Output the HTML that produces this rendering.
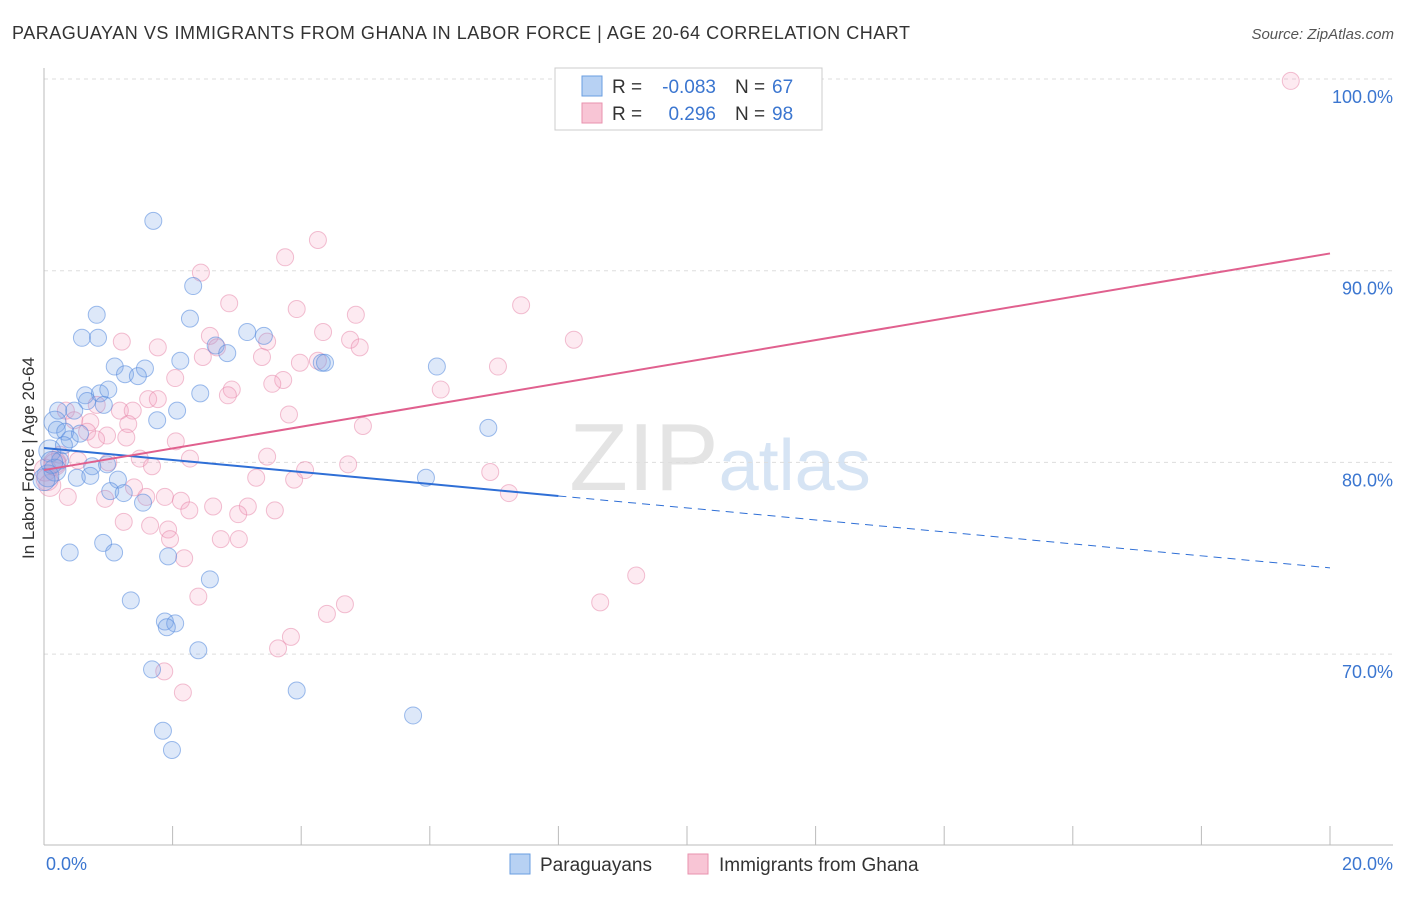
<!DOCTYPE html>
<html><head><meta charset="utf-8"><style>
body{margin:0;background:#fff;font-family:"Liberation Sans",sans-serif;}
svg text{font-family:"Liberation Sans",sans-serif;}
</style></head><body>
<svg id="chart" width="1406" height="892" xmlns="http://www.w3.org/2000/svg">
<text x="12" y="39" font-size="18" fill="#333" textLength="898">PARAGUAYAN VS IMMIGRANTS FROM GHANA IN LABOR FORCE | AGE 20-64 CORRELATION CHART</text>
<text x="1394" y="39" font-size="15" fill="#555" text-anchor="end" font-style="italic">Source: ZipAtlas.com</text>
<text x="720" y="490" font-size="96" fill="#e4e4e4" text-anchor="middle" font-family="Liberation Serif">ZIP<tspan fill="#d6e4f4" font-family="Liberation Sans" font-size="72">atlas</tspan></text>
<g id="grid"></g><g id="axes"></g><g id="pts"></g><g id="trend"></g>
<text transform="translate(34,458) rotate(-90)" font-size="17" fill="#333" text-anchor="middle">In Labor Force | Age 20-64</text>
<g>
<rect x="555" y="68" width="267" height="62" fill="#fff" stroke="#ccc"/>
<rect x="582" y="76" width="20" height="20" fill="#b7d1f3" stroke="#6a9ee0"/>
<rect x="582" y="103" width="20" height="20" fill="#f8c5d5" stroke="#e892ae"/>
<text x="612" y="93" font-size="19" fill="#333">R =</text>
<text x="716" y="93" font-size="19" fill="#3b76d0" text-anchor="end">-0.083</text>
<text x="735" y="93" font-size="19" fill="#333">N =</text>
<text x="772" y="93" font-size="19" fill="#3b76d0">67</text>
<text x="612" y="120" font-size="19" fill="#333">R =</text>
<text x="716" y="120" font-size="19" fill="#3b76d0" text-anchor="end">0.296</text>
<text x="735" y="120" font-size="19" fill="#333">N =</text>
<text x="772" y="120" font-size="19" fill="#3b76d0">98</text>
</g>
<g>
<rect x="510" y="854" width="20" height="20" fill="#b7d1f3" stroke="#6a9ee0"/>
<text x="540" y="871" font-size="19" fill="#333">Paraguayans</text>
<rect x="688" y="854" width="20" height="20" fill="#f8c5d5" stroke="#e892ae"/>
<text x="719" y="871" font-size="19" fill="#333">Immigrants from Ghana</text>
</g>
</svg>
<script>
const blueX=[1.70,2.32,0.82,0.59,0.84,2.27,3.16,3.42,2.67,2.85,2.12,1.10,1.57,1.26,1.46,4.32,4.37,6.11,2.43,0.64,0.87,1.00,0.67,0.93,2.07,0.22,0.47,1.76,0.17,0.20,0.33,0.40,0.56,6.91,0.09,0.25,0.75,0.98,0.17,0.51,0.72,1.15,5.94,1.03,1.24,1.54,0.40,0.92,1.09,1.93,2.58,1.35,1.88,2.04,1.91,2.40,1.68,3.93,5.74,1.85,1.99,0.06,0.12,0.31,0.0];
const blueY=[92.6,89.2,87.7,86.5,86.5,87.5,86.8,86.6,86.1,85.7,85.3,85.0,84.9,84.6,84.5,85.2,85.2,85.0,83.6,83.5,83.6,83.8,83.2,83.0,82.7,82.7,82.7,82.2,82.1,81.7,81.6,81.2,81.5,81.8,80.6,80.1,79.8,79.9,79.6,79.2,79.3,79.1,79.2,78.5,78.4,77.9,75.3,75.8,75.3,75.1,73.9,72.8,71.7,71.6,71.4,70.2,69.2,68.1,66.8,66.0,65.0,79.3,80.0,80.9,79.1];
const pinkX=[19.39,4.26,3.75,2.44,2.88,3.93,7.42,4.85,4.34,4.76,4.91,3.47,2.58,2.69,1.21,1.77,8.24,2.47,3.39,3.98,4.26,7.06,2.04,3.72,2.92,3.55,6.17,2.86,1.62,1.77,0.82,1.18,1.38,3.81,0.34,0.47,0.72,1.31,4.96,0.67,0.98,1.28,2.05,0.81,2.27,3.47,1.49,1.68,4.73,6.94,1.00,0.25,0.17,0.02,0.53,3.30,3.89,4.06,1.40,1.59,7.23,1.88,2.13,0.37,0.95,2.63,2.26,3.17,3.02,3.59,1.24,1.65,1.93,1.96,3.03,2.75,2.18,9.21,2.40,4.68,8.65,4.40,3.84,3.64,1.87,2.16,0.09,0.05,0.17];
const pinkY=[99.9,91.6,90.7,89.9,88.3,88.0,88.2,87.7,86.8,86.4,86.0,86.3,86.6,86.0,86.3,86.0,86.4,85.5,85.5,85.2,85.3,85.0,84.4,84.3,83.8,84.1,83.8,83.5,83.3,83.3,83.0,82.7,82.7,82.5,82.7,82.2,82.1,82.0,81.9,81.6,81.4,81.3,81.1,81.2,80.2,80.3,80.2,79.8,79.9,79.5,80.0,80.4,80.0,79.6,80.1,79.2,79.1,79.6,78.7,78.2,78.4,78.2,78.0,78.2,78.1,77.7,77.5,77.7,77.3,77.5,76.9,76.7,76.5,76.0,76.0,76.0,75.0,74.1,73.0,72.6,72.7,72.1,70.9,70.3,69.1,68.0,78.8,79.1,79.9];
const blueTrend=[80.75,74.5];
const blueSolidEnd=8.0;
const pinkTrend=[79.6,90.9];
const yTicks=[100,90,80,70];
const xTickLabels=["0.0%","20.0%"];

const NS="http://www.w3.org/2000/svg";
const X=v=>44+v*64.3, Y=v=>79+(100-v)*19.17;
function mk(tag,attrs,parent){const e=document.createElementNS(NS,tag);for(const k in attrs)e.setAttribute(k,attrs[k]);document.getElementById(parent).appendChild(e);return e;}
yTicks.forEach(t=>{
 const l=mk('line',{x1:44,x2:1393,y1:Y(t),y2:Y(t),stroke:'#ddd','stroke-dasharray':'4,4'},'grid');
 
 
 const tx=mk('text',{x:1393,y:Y(t)+24,'font-size':18,fill:'#3b76d0','text-anchor':'end'},'grid');
 tx.textContent=t.toFixed(1)+'%';
 
 
});
const ax=mk('line',{x1:44,x2:1393,y1:845,y2:845,stroke:'#bbb'},'axes');


const ay=mk('line',{x1:44,x2:44,y1:68,y2:845,stroke:'#bbb'},'axes');


for(let i=0;i<=10;i++){
 const t=mk('line',{x1:X(i*2),x2:X(i*2),y1:826,y2:845,stroke:'#bbb'},'axes');
 
 
}
[[0,'start',46],[20,'end',1393]].forEach((d,i)=>{
 const t=mk('text',{x:d[2],y:870,'font-size':18,fill:'#3b76d0','text-anchor':d[1]},'axes');
 t.textContent=xTickLabels[i];
 
 
});
function dots(xs,ys,fill,stroke,name){
 xs.forEach((x,i)=>{
  const c=mk('circle',{cx:X(x),cy:Y(ys[i]),r:(x<0.2?11:8.5),fill:fill,stroke:stroke,'stroke-width':1},'pts');
  
  
 });
}
dots(pinkX,pinkY,'rgba(245,160,190,0.22)','rgba(230,130,165,0.5)','ghana-point');
dots(blueX,blueY,'rgba(120,165,230,0.25)','rgba(80,135,220,0.55)','paraguayan-point');
const bAt=x=>blueTrend[0]+(blueTrend[1]-blueTrend[0])*x/20;
const b1=mk('line',{x1:X(0),y1:Y(bAt(0)),x2:X(blueSolidEnd),y2:Y(bAt(blueSolidEnd)),stroke:'#2f6fd6','stroke-width':2},'trend');


const b2=mk('line',{x1:X(blueSolidEnd),y1:Y(bAt(blueSolidEnd)),x2:X(20),y2:Y(bAt(20)),stroke:'#2f6fd6','stroke-width':1,'stroke-dasharray':'8,6'},'trend');


const p1=mk('line',{x1:X(0),y1:Y(pinkTrend[0]),x2:X(20),y2:Y(pinkTrend[1]),stroke:'#e0608e','stroke-width':2},'trend');


</script>
</body></html>
